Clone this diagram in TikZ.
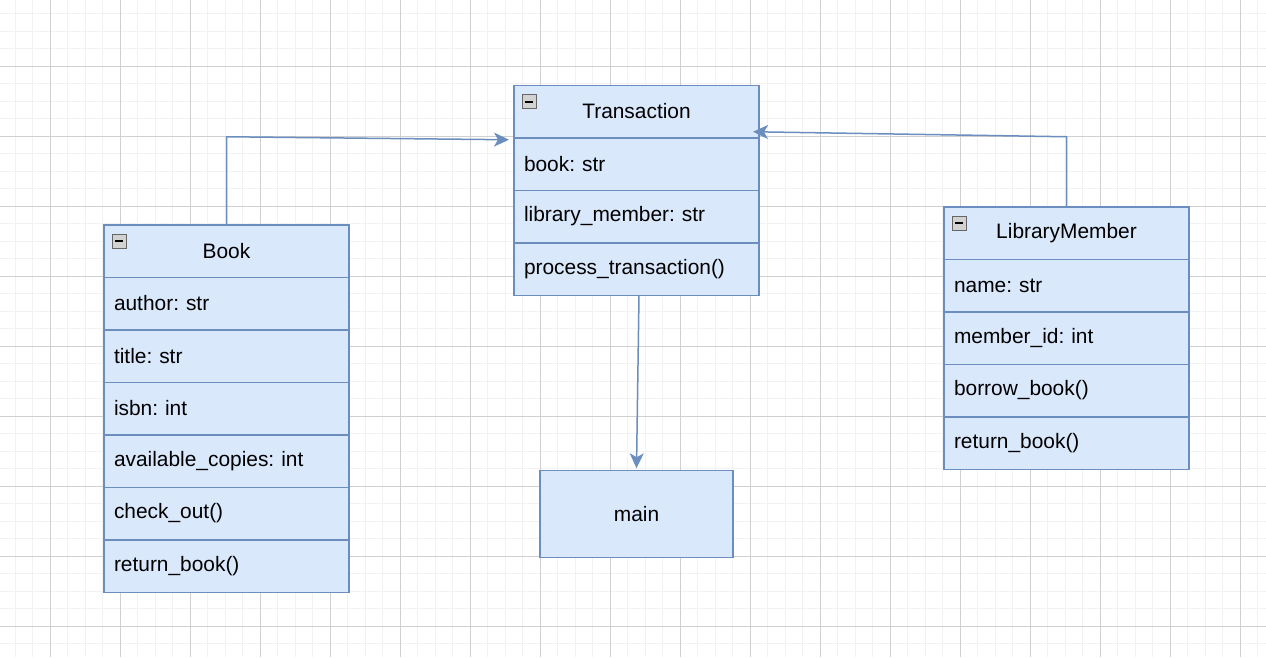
\documentclass[tikz,border=0pt]{standalone}
\usepackage{fontspec}
\setmainfont{Liberation Sans}
\frenchspacing
\usetikzlibrary{positioning,arrows.meta}
\definecolor{umlfill}{HTML}{DAE8FC}
\definecolor{umlline}{HTML}{6C8EBF}
\definecolor{gridminor}{HTML}{F2F2F2}
\definecolor{gridmajor}{HTML}{D0D0D0}
\tikzstyle{arrow} = [draw=umlline, line width=1.5pt, -{Stealth[length=15pt, width=14pt, inset=4pt]}]
\tikzstyle{classhead} = [
    rectangle,                 % Shape
    draw=umlline,              % Border color
    line width=1.5pt,          % Border width
    fill=umlfill,              % Background
    minimum width=245pt,       % Width
    minimum height=52.5pt,     % Height
    outer sep=0pt,
    text centered,             % Centered text
    font=\fontsize{20.9}{24}\selectfont
]
\tikzstyle{classrow} = [
    classhead,
    text width=225pt,          % Width minus padding
    inner xsep=10pt,
    align=left                 % Left aligned members
]
\tikzstyle{collapse} = [
    rectangle,
    draw=gray!80!black,
    line width=0.8pt,
    fill=gray!35,
    minimum width=14pt,
    minimum height=14pt,
    inner sep=0pt,
    path picture={\draw[black, line width=2pt]
        ([xshift=3pt]path picture bounding box.west) --
        ([xshift=-3pt]path picture bounding box.east);}
]

\begin{document}
\begin{tikzpicture}[x=1pt, y=-1pt]

		% Background grid
		\useasboundingbox (0,0) rectangle (1266,657);
		\fill[white] (0,0) rectangle (1266,657);
		\foreach \x in {15,32.5,...,1266} \draw[gridminor, line width=1pt] (\x,0) -- (\x,657);
		\foreach \y in {13.5,31,...,657} \draw[gridminor, line width=1pt] (0,\y) -- (1266,\y);
		\foreach \x in {50,120,...,1266} \draw[gridmajor, line width=1pt] (\x,0) -- (\x,657);
		\foreach \y in {66,136,...,657} \draw[gridmajor, line width=1pt] (0,\y) -- (1266,\y);

		% Transaction class
		\node[classhead] (tx) at (636.5,111.5) {Transaction};
		\node[classrow, below=0pt of tx] (txbook) {book: str};
		\node[classrow, below=0pt of txbook] (txmember) {library\_member: str};
		\node[classrow, below=0pt of txmember] (txprocess) {process\_transaction()};
		\node[collapse, below right=9pt and 8pt of tx.north west] (txicon) {};

		% Book class
		\node[classhead, below left=87pt and 165pt of tx] (bk) {Book};
		\node[classrow, below=0pt of bk] (bkauthor) {author: str};
		\node[classrow, below=0pt of bkauthor] (bktitle) {title: str};
		\node[classrow, below=0pt of bktitle] (bkisbn) {isbn: int};
		\node[classrow, below=0pt of bkisbn] (bkcopies) {available\_copies: int};
		\node[classrow, below=0pt of bkcopies] (bkcheck) {check\_out()};
		\node[classrow, below=0pt of bkcheck] (bkreturn) {return\_book()};
		\node[collapse, below right=9pt and 8pt of bk.north west] (bkicon) {};

		% LibraryMember class
		\node[classhead, below right=69pt and 185pt of tx] (lm) {LibraryMember};
		\node[classrow, below=0pt of lm] (lmname) {name: str};
		\node[classrow, below=0pt of lmname] (lmid) {member\_id: int};
		\node[classrow, below=0pt of lmid] (lmborrow) {borrow\_book()};
		\node[classrow, below=0pt of lmborrow] (lmreturn) {return\_book()};
		\node[collapse, below right=9pt and 8pt of lm.north west] (lmicon) {};

		% main
		\node[classhead, minimum width=193pt, minimum height=87pt, below=175pt of txprocess] (main) {main};

		% Arrows
		\draw[arrow] (bk.north) -- ++(0,-88) -- ([xshift=-5pt, yshift=-2pt]tx.south west);
		\draw[arrow] (lm.north) -- ++(0,-70) -- ([xshift=-6pt, yshift=6pt]tx.south east);
		\draw[arrow] ([xshift=2.5pt]txprocess.south) -- ([yshift=2pt]main.north);
	\end{tikzpicture}
\end{document}
